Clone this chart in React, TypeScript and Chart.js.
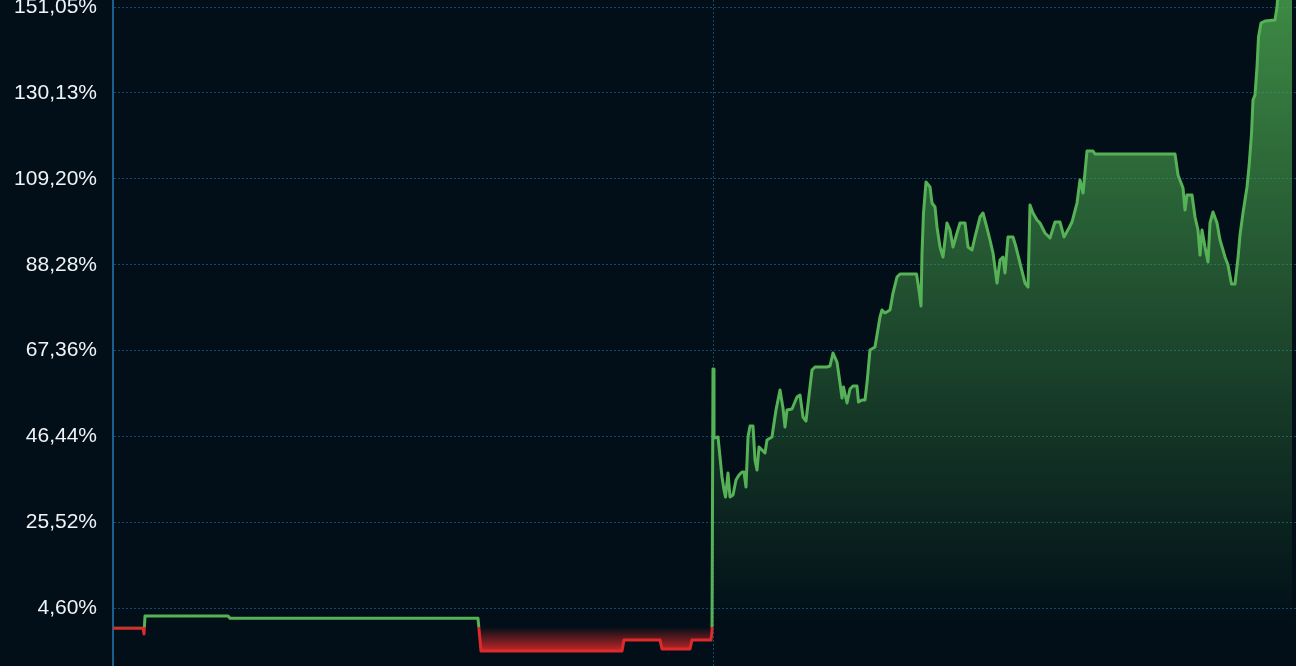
import React, { useEffect, useRef } from 'react';
import { Chart, registerables } from 'chart.js';

Chart.register(...registerables);

// Time axis (days since start) and cumulative return (%) series
const days = [
  0, 30, 31, 32, 115, 117, 365, 368, 509, 511, 547, 549, 577, 579, 598, 599,
  600, 601, 605, 609, 611, 612.5, 615, 617, 620, 623, 626, 629, 631, 633, 635, 637,
  640, 642, 644, 646, 649, 652, 654, 659, 660, 663, 667, 670, 672, 674, 679, 684,
  687, 690, 693, 697, 699, 702, 714, 717, 720, 724, 727, 729, 730.5, 734, 737, 740,
  744, 745.5, 749, 752, 754, 757, 762, 767, 769, 772, 777, 780, 784, 787, 803.5, 806,
  808, 809, 810.5, 813, 817, 819, 822, 824, 827, 830, 834, 837, 840, 844, 847, 852,
  855, 859, 862, 867, 870, 874, 877, 880, 884, 887, 890, 892, 895, 900, 903, 907,
  912, 915, 917, 920, 924, 927, 932, 937, 942, 947, 951, 956, 959, 964, 967, 970,
  974, 980, 982, 1062, 1065, 1070, 1072, 1074, 1079, 1082, 1085, 1087, 1089, 1092, 1095, 1097,
  1100, 1104, 1107, 1110, 1112, 1115, 1118.5, 1122, 1125, 1127, 1130, 1134, 1136, 1138.5, 1140, 1142,
  1144, 1145.5, 1148, 1152, 1162, 1164, 1166, 1179,
];

const returnsPct = [
  -0.32, -0.32, -1.7, 2.68, 2.68, 2.12, 2.12, -5.85, -5.85, -3.17, -3.17, -5.36, -5.36, -3.17, -3.17, -0.97,
  62.87, 46.05, 46.3, 36.55, 33.38, 31.68, 37.52, 31.68, 32.16, 35.82, 37.04, 37.77, 37.77, 34.11, 46.3, 48.98,
  48.98, 40.69, 38.26, 43.86, 43.13, 42.4, 45.57, 46.3, 48.0, 52.87, 57.75, 53.36, 48.73, 52.87, 53.12, 56.04,
  56.53, 51.17, 50.19, 58.48, 62.62, 63.35, 63.35, 63.6, 66.76, 64.57, 59.45, 55.8, 58.48, 54.58, 57.99, 58.72,
  58.72, 54.82, 55.31, 55.31, 59.45, 67.5, 68.23, 75.54, 77.24, 76.51, 77.24, 81.38, 85.28, 86.01, 86.01, 82.12,
  78.22, 91.13, 100.88, 108.43, 107.21, 103.31, 102.34, 97.47, 92.59, 90.16, 98.44, 96.73, 92.59, 96.0, 98.44, 98.44,
  92.59, 91.86, 95.03, 99.9, 100.88, 97.22, 94.3, 91.13, 83.82, 89.43, 90.16, 86.26, 95.03, 95.03, 92.59, 88.69,
  83.82, 82.85, 102.83, 100.88, 99.17, 98.44, 96.0, 94.79, 98.68, 98.68, 95.03, 97.22, 98.68, 103.31, 108.92, 105.75,
  115.98, 115.98, 115.25, 115.25, 110.14, 106.97, 101.61, 105.26, 105.26, 99.9, 96.73, 90.64, 96.73, 92.59, 88.94, 98.44,
  101.12, 98.44, 94.3, 91.86, 90.16, 88.21, 83.58, 83.58, 89.91, 95.52, 100.88, 107.21, 112.09, 120.13, 128.41, 129.63,
  136.45, 143.76, 147.17, 147.66, 147.9, 151.07, 157.7, 162.6,
];

// Axis tick values
const yTickValues = [4.6, 25.52, 46.44, 67.36, 88.28, 109.2, 130.13, 151.05];
const markerDays = [600];
const yRange = { min: -9.5, max: 152.78 };
const xRange = { min: 0, max: 1183 };

const BG = '#020f18';
const GREEN = 'rgb(86,178,86)';
const RED = 'rgb(222,42,42)';
const GRID = '#114a6a';
const AXIS = '#1a5f8c';

function clamp01(v: number) {
  return Math.max(0, Math.min(1, v));
}

function lineGradient(chart: any) {
  const { ctx, chartArea, scales } = chart;
  if (!chartArea || !scales.y) return GREEN;
  const z = scales.y.getPixelForValue(0);
  const f = clamp01((z - chartArea.top) / (chartArea.bottom - chartArea.top));
  const g = ctx.createLinearGradient(0, chartArea.top, 0, chartArea.bottom);
  g.addColorStop(0, GREEN);
  g.addColorStop(f, GREEN);
  g.addColorStop(f, RED);
  g.addColorStop(1, RED);
  return g;
}

function fillGradient(chart: any) {
  const { ctx, chartArea, scales } = chart;
  if (!chartArea || !scales.y) return 'rgba(76,175,80,0.3)';
  const h = chartArea.bottom - chartArea.top;
  const z = clamp01((scales.y.getPixelForValue(0) - chartArea.top) / h);
  const r = clamp01((scales.y.getPixelForValue(-6) - chartArea.top) / h);
  const g = ctx.createLinearGradient(0, chartArea.top, 0, chartArea.bottom);
  g.addColorStop(0, 'rgba(76,168,80,0.8)');
  g.addColorStop(z, 'rgba(76,168,80,0.0)');
  g.addColorStop(z, 'rgba(222,42,42,0.0)');
  g.addColorStop(r, 'rgba(222,42,42,0.9)');
  g.addColorStop(1, 'rgba(222,42,42,0.9)');
  return g;
}

function formatPct(v: number) {
  return v.toFixed(2).replace('.', ',') + '%';
}

export default function App() {
  const canvasRef = useRef<HTMLCanvasElement | null>(null);

  useEffect(() => {
    document.body.style.margin = '0';
    document.body.style.background = BG;
    const canvas = canvasRef.current;
    if (!canvas) return;
    const chart = new Chart(canvas, {
      type: 'line',
      data: {
        datasets: [
          {
            data: days.map((d, i) => ({ x: d, y: returnsPct[i] })),
            borderColor: (c: any) => lineGradient(c.chart),
            backgroundColor: (c: any) => fillGradient(c.chart),
            borderWidth: 3,
            borderJoinStyle: 'round',
            pointRadius: 0,
            pointHoverRadius: 0,
            tension: 0,
            fill: 'origin',
          } as any,
        ],
      },
      options: {
        animation: false,
        responsive: false,
        devicePixelRatio: 1,
        events: [],
        layout: { padding: 0 },
        plugins: {
          legend: { display: false },
          title: { display: false },
          tooltip: { enabled: false },
        },
        scales: {
          x: {
            type: 'linear',
            min: xRange.min,
            max: xRange.max,
            afterBuildTicks: (scale: any) => {
              scale.ticks = markerDays.map((v) => ({ value: v }));
            },
            ticks: { display: false },
            grid: { color: GRID, lineWidth: 1, drawTicks: false },
            border: { display: false, dash: [2, 2] },
          },
          y: {
            type: 'linear',
            min: yRange.min,
            max: yRange.max,
            afterBuildTicks: (scale: any) => {
              scale.ticks = yTickValues.map((v) => ({ value: v }));
            },
            afterFit: (scale: any) => {
              scale.width = 113;
              scale.paddingTop = 0;
              scale.paddingBottom = 0;
            },
            ticks: {
              color: '#eef3f7',
              padding: 16,
              font: { family: '"Liberation Sans", Arial, sans-serif', size: 21 },
              callback: (v: any) => formatPct(Number(v)),
            },
            grid: { color: GRID, lineWidth: 1, drawTicks: false },
            border: { display: true, color: AXIS, width: 2, dash: [2, 2] },
          },
        },
      } as any,
    });
    return () => chart.destroy();
  }, []);

  return (
    <div style={{ position: 'fixed', left: 0, top: 0, width: 1296, height: 666, background: BG }}>
      <canvas ref={canvasRef} width={1296} height={666} style={{ display: 'block', width: 1296, height: 666 }} />
    </div>
  );
}
